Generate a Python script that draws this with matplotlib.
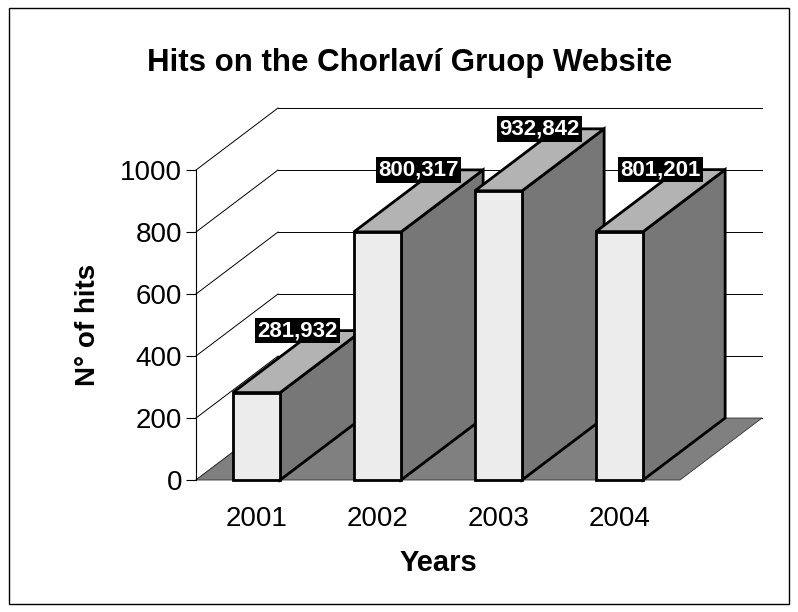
import numpy as np
import matplotlib
matplotlib.use("Agg")
import matplotlib.pyplot as plt
from matplotlib.patches import Polygon, Rectangle

plt.rcParams['font.family'] = ['Liberation Sans', 'DejaVu Sans']

# data
years = ['2001', '2002', '2003', '2004']
hits = [281932, 800317, 932842, 801201]
y_ticks = [0, 200, 400, 600, 800, 1000]

# 3d look: depth offset in data units (x in categories, y in thousands)
DX = 0.678
DY = 200
bar_w = 0.39

front_col = '#ececec'
top_col = '#b3b3b3'
side_col = '#777777'
floor_col = '#808080'

W, H = 798, 612
fig = plt.figure(figsize=(W / 100, H / 100), dpi=100)
ax = fig.add_axes([196 / W, (H - 480) / H, 484 / W, 310 / H])
ax.set_xlim(-0.5, len(years) - 0.5)
ax.set_ylim(0, 1000)
ax.patch.set_visible(False)
for s in ['top', 'right', 'bottom']:
    ax.spines[s].set_visible(False)
ax.spines['left'].set_linewidth(0.8)
ax.spines['left'].set_zorder(5)

x_left, x_right = -0.5, len(years) - 0.5

# back wall gridlines and left wall diagonals
for v in y_ticks:
    ax.plot([x_left + DX, x_right + DX], [v + DY, v + DY], color='black', lw=0.7,
            clip_on=False, zorder=1)
    ax.plot([x_left, x_left + DX], [v, v + DY], color='black', lw=0.7,
            clip_on=False, zorder=1)

# floor
floor = Polygon([(x_left, 0), (x_right, 0), (x_right + DX, DY), (x_left + DX, DY)],
                closed=True, facecolor=floor_col, edgecolor='#333333', lw=0.6,
                clip_on=False, zorder=2)
ax.add_patch(floor)

# bars, left to right so the next one hides the previous side
for i, h in enumerate(hits):
    v = h / 1000
    x0, x1 = i - bar_w / 2, i + bar_w / 2
    side = Polygon([(x1, 0), (x1 + DX, DY), (x1 + DX, v + DY), (x1, v)], closed=True,
                   facecolor=side_col, edgecolor='black', lw=2, clip_on=False,
                   zorder=3 + i, joinstyle='miter')
    top = Polygon([(x0, v), (x1, v), (x1 + DX, v + DY), (x0 + DX, v + DY)], closed=True,
                  facecolor=top_col, edgecolor='black', lw=2, clip_on=False,
                  zorder=3 + i, joinstyle='miter')
    front = Rectangle((x0, 0), bar_w, v, facecolor=front_col, edgecolor='black',
                      lw=2, clip_on=False, zorder=3 + i, joinstyle='miter')
    ax.add_patch(side)
    ax.add_patch(top)
    ax.add_patch(front)
    ax.text(i + DX / 2, v + DY, f'{h:,}', ha='center', va='center', color='white',
            fontsize=16, fontweight='bold', zorder=10, clip_on=False,
            bbox=dict(boxstyle='square,pad=0.1', facecolor='black', edgecolor='none'))

ax.set_yticks(y_ticks)
ax.set_yticklabels([str(t) for t in y_ticks], fontsize=20)
ax.set_xticks(range(len(years)))
ax.set_xticklabels(years, fontsize=20)
ax.tick_params(axis='y', direction='out', length=7, width=0.8, pad=3)
ax.tick_params(axis='x', length=0, pad=19)

ax.set_xlabel('Years', fontsize=21, fontweight='bold', labelpad=12)
ax.set_ylabel('N° of hits', fontsize=20, fontweight='bold', labelpad=14)

fig.text(410 / W, 1 - 63 / H, 'Hits on the Chorlaví Gruop Website', ha='center', va='center',
         fontsize=22.5, fontweight='bold')

# chart area border
fig.patches.append(Rectangle((9 / W, 8 / H), 780 / W, 596 / H, transform=fig.transFigure,
                             facecolor='none', edgecolor='black', lw=1))

fig.savefig('out.png', dpi=100)
